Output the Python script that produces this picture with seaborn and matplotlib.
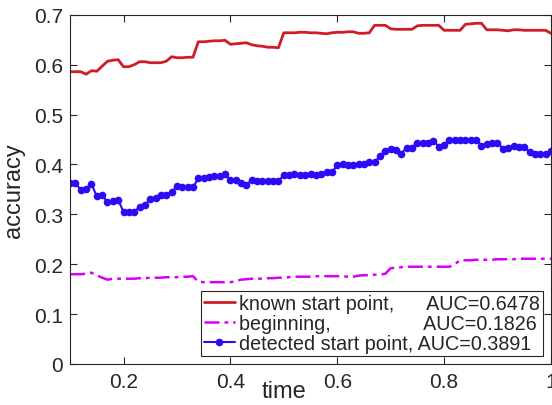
import numpy as np
import pandas as pd
import matplotlib
matplotlib.use('Agg')
import matplotlib.pyplot as plt
import seaborn as sns

# time grid (0.1 .. 1.0, step 0.01)
time = [0.10, 0.11, 0.12, 0.13, 0.14, 0.15, 0.16, 0.17, 0.18, 0.19,
        0.20, 0.21, 0.22, 0.23, 0.24, 0.25, 0.26, 0.27, 0.28, 0.29,
        0.30, 0.31, 0.32, 0.33, 0.34, 0.35, 0.36, 0.37, 0.38, 0.39,
        0.40, 0.41, 0.42, 0.43, 0.44, 0.45, 0.46, 0.47, 0.48, 0.49,
        0.50, 0.51, 0.52, 0.53, 0.54, 0.55, 0.56, 0.57, 0.58, 0.59,
        0.60, 0.61, 0.62, 0.63, 0.64, 0.65, 0.66, 0.67, 0.68, 0.69,
        0.70, 0.71, 0.72, 0.73, 0.74, 0.75, 0.76, 0.77, 0.78, 0.79,
        0.80, 0.81, 0.82, 0.83, 0.84, 0.85, 0.86, 0.87, 0.88, 0.89,
        0.90, 0.91, 0.92, 0.93, 0.94, 0.95, 0.96, 0.97, 0.98, 0.99, 1.00]

known = [0.586, 0.586, 0.586, 0.581, 0.588, 0.587, 0.597, 0.607, 0.609, 0.610,
         0.596, 0.596, 0.600, 0.606, 0.606, 0.604, 0.604, 0.604, 0.607, 0.616,
         0.614, 0.614, 0.615, 0.615, 0.646, 0.646, 0.647, 0.648, 0.648, 0.649,
         0.641, 0.642, 0.643, 0.644, 0.640, 0.638, 0.637, 0.635, 0.635, 0.634,
         0.664, 0.664, 0.664, 0.665, 0.665, 0.664, 0.664, 0.663, 0.662, 0.664,
         0.665, 0.665, 0.666, 0.666, 0.663, 0.663, 0.664, 0.679, 0.679, 0.679,
         0.672, 0.671, 0.671, 0.671, 0.671, 0.678, 0.679, 0.679, 0.679, 0.679,
         0.669, 0.669, 0.669, 0.669, 0.681, 0.682, 0.683, 0.683, 0.670, 0.670,
         0.670, 0.669, 0.668, 0.670, 0.670, 0.669, 0.669, 0.669, 0.669, 0.669, 0.663]

beginning = [0.180, 0.180, 0.180, 0.181, 0.183, 0.178, 0.173, 0.169, 0.171, 0.171,
             0.171, 0.171, 0.171, 0.172, 0.172, 0.173, 0.173, 0.173, 0.174, 0.174,
             0.174, 0.175, 0.175, 0.176, 0.165, 0.164, 0.164, 0.164, 0.164, 0.164,
             0.164, 0.166, 0.169, 0.170, 0.171, 0.171, 0.171, 0.172, 0.172, 0.173,
             0.173, 0.174, 0.175, 0.175, 0.175, 0.175, 0.176, 0.176, 0.176, 0.176,
             0.176, 0.176, 0.175, 0.175, 0.177, 0.178, 0.178, 0.179, 0.179, 0.181,
             0.192, 0.193, 0.194, 0.195, 0.195, 0.195, 0.195, 0.195, 0.195, 0.195,
             0.195, 0.195, 0.200, 0.208, 0.208, 0.208, 0.209, 0.209, 0.209, 0.209,
             0.210, 0.210, 0.210, 0.210, 0.211, 0.211, 0.211, 0.211, 0.211, 0.211, 0.211]

detected = [0.363, 0.363, 0.349, 0.351, 0.361, 0.336, 0.339, 0.324, 0.327, 0.329,
            0.305, 0.305, 0.305, 0.315, 0.319, 0.331, 0.333, 0.338, 0.339, 0.345,
            0.356, 0.354, 0.354, 0.354, 0.372, 0.372, 0.375, 0.376, 0.376, 0.380,
            0.369, 0.369, 0.363, 0.359, 0.369, 0.366, 0.366, 0.366, 0.366, 0.367,
            0.379, 0.379, 0.381, 0.379, 0.378, 0.381, 0.379, 0.380, 0.384, 0.384,
            0.398, 0.400, 0.399, 0.399, 0.401, 0.401, 0.404, 0.405, 0.416, 0.428,
            0.432, 0.429, 0.422, 0.434, 0.434, 0.444, 0.444, 0.444, 0.448, 0.436,
            0.439, 0.449, 0.450, 0.449, 0.449, 0.450, 0.450, 0.438, 0.441, 0.444,
            0.444, 0.432, 0.434, 0.437, 0.435, 0.435, 0.425, 0.422, 0.422, 0.422, 0.427]

labels = ['known start point,' + ' ' * 6 + 'AUC=0.6478',
          'beginning,' + ' ' * 17 + 'AUC=0.1826',
          'detected start point, AUC=0.3891']

sns.set_style('ticks')
plt.rcParams['font.family'] = ['Liberation Sans', 'DejaVu Sans']
plt.rcParams['xtick.direction'] = 'in'
plt.rcParams['ytick.direction'] = 'in'

df = pd.DataFrame({'time': time, 'known': known,
                   'beginning': beginning, 'detected': detected})

fig = plt.figure(figsize=(5.52, 4.06), dpi=100)
ax = fig.add_axes([0.127, 0.101, 0.871, 0.860])

sns.lineplot(data=df, x='time', y='known', ax=ax, color='#d01c24',
             linewidth=2.0, label=labels[0])
sns.lineplot(data=df, x='time', y='beginning', ax=ax, color='#d600f5',
             linewidth=1.8, label=labels[1])
ax.lines[-1].set_dashes([6, 2, 1.5, 2])
sns.lineplot(data=df, x='time', y='detected', ax=ax, color='#2b0cf5',
             linewidth=1.5, marker='o', markersize=5.5, markeredgewidth=0,
             label=labels[2])

ax.set_xlim(0.1, 1.0)
ax.set_ylim(0, 0.7)
ax.set_xticks([0.2, 0.4, 0.6, 0.8, 1.0])
ax.set_xticklabels(['0.2', '0.4', '0.6', '0.8', '1'])
ax.set_yticks([0, 0.1, 0.2, 0.3, 0.4, 0.5, 0.6, 0.7])
ax.set_yticklabels(['0', '0.1', '0.2', '0.3', '0.4', '0.5', '0.6', '0.7'])
ax.tick_params(labelsize=15, length=5, width=0.8, top=True, right=True,
               colors='#262626', labelcolor='#262626')
ax.tick_params(axis='x', pad=6)
ax.tick_params(axis='y', pad=5)
for s in ax.spines.values():
    s.set_visible(True)
    s.set_color('#262626')
    s.set_linewidth(0.8)

ax.set_xlabel('time', fontsize=17, color='#262626')
ax.set_ylabel('accuracy', fontsize=17, color='#262626')
ax.xaxis.set_label_coords(0.445, -0.045)
ax.yaxis.set_label_coords(-0.094, 0.50)

leg = ax.legend(loc='lower right', fontsize=14.2, frameon=True, fancybox=False,
                edgecolor='#262626', framealpha=1, handlelength=1.6,
                handletextpad=0.2, labelspacing=0.05, borderpad=0.15,
                borderaxespad=0.4)
leg.get_frame().set_linewidth(0.8)

fig.savefig('out.png', dpi=100)
